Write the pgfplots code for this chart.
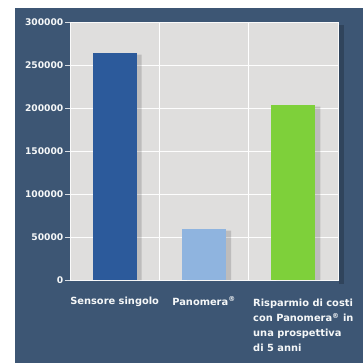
\documentclass[border=0pt]{standalone}
\usepackage{pgfplots}
\pgfplotsset{compat=1.18}
\usepackage{fontspec}
\setmainfont{DejaVu Sans}
\definecolor{bg}{HTML}{3D5674}
\definecolor{plotbg}{HTML}{DFDEDD}
\definecolor{barblue}{HTML}{2C5A9B}
\definecolor{barlight}{HTML}{8FB4DF}
\definecolor{bargreen}{HTML}{7ED03A}
\begin{document}
\begin{tikzpicture}
% canvas: 363 x 363 bp, plot area lower left corner at (0,0)
\useasboundingbox (-70bp,-83bp) rectangle (293bp,280bp);
\fill[white] (-70bp,-83bp) rectangle (293bp,280bp);
\fill[bg] (-55bp,-83bp) rectangle (293bp,272bp);
% shadow of the plot area
\fill[black,opacity=0.2] (269bp,-4bp) rectangle (274bp,255bp);
\begin{axis}[
  anchor=south west,
  scale only axis, width=268bp, height=258bp,
  ymin=0, ymax=300000,
  ytick={0,50000,100000,150000,200000,250000,300000},
  yticklabels={0,50000,100000,150000,200000,250000,300000},
  scaled y ticks=false,
  xmin=-0.5, xmax=2.5,
  xtick={0,1,2}, minor xtick={0.5,1.5},
  xticklabels={Sensore singolo, Panomera\textsuperscript{®},
    {\begin{tabular}{@{\hspace{20bp}}l@{}}Risparmio di costi\\con Panomera\textsuperscript{®} in\\una prospettiva\\di 5 anni\end{tabular}}},
  xticklabel style={yshift=-8bp, font=\bfseries\fontsize{9.9}{15}\selectfont},
  x tick style={draw=none}, minor x tick style={draw=none},
  y tick style={white!80!bg, line width=0.8pt},
  tick align=outside, major tick length=5bp,
  ytick pos=left,
  yticklabel style={inner sep=1.5bp, font=\bfseries\fontsize{9.2}{10}\selectfont},
  ticklabel style={text=white!95!bg},
  ymajorgrids, minor x grid style={white, line width=0.8pt},
  xminorgrids,
  major grid style={white!95!plotbg, line width=0.8pt},
  axis line style={draw=white!85!plotbg, line width=1pt},
  axis background/.style={fill=plotbg},
  ybar, bar width=44bp,
]
\addplot[fill=black, opacity=0.15, draw=none, bar shift=5bp, forget plot]
  coordinates {(0,262000) (1,57500) (2,201500)};
\addplot[fill=barblue, draw=none, bar shift=0bp] coordinates {(0,264000)};
\addplot[fill=barlight, draw=none, bar shift=0bp] coordinates {(1,59300)};
\addplot[fill=bargreen, draw=none, bar shift=0bp] coordinates {(2,203500)};
\end{axis}
\end{tikzpicture}
\end{document}
